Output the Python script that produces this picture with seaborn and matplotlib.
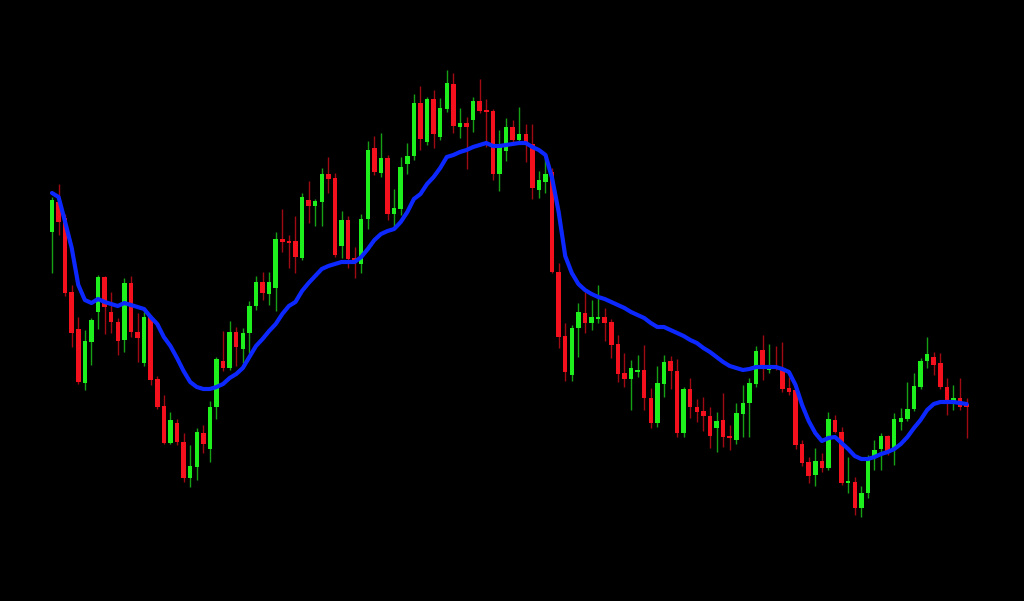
import numpy as np
import pandas as pd
import seaborn as sns
import matplotlib
matplotlib.use("Agg")
import matplotlib.pyplot as plt

# OHLC values (price points)
opens = [368, 398, 382, 308, 271, 217, 258, 288, 323, 288, 278, 260, 317, 268, 237, 283, 221, 194, 157, 177,
         158, 122, 133, 167, 151, 193, 239, 232, 268, 251, 267, 294, 318, 306, 312, 361, 359, 359, 342, 400,
         394, 398, 426, 422, 354, 380, 342, 336, 381, 452, 427, 442, 386, 391, 436, 444, 497, 458, 501, 463,
         491, 516, 473, 477, 480, 499, 489, 489, 426, 449, 473, 460, 466, 456, 410, 418, 428, 328, 264, 225,
         272, 287, 277, 281, 283, 278, 256, 227, 221, 228, 230, 202, 177, 216, 239, 229, 167, 211, 193, 189,
         184, 172, 180, 164, 160, 186, 197, 216, 250, 230, 234, 231, 212, 210, 156, 138, 125, 139, 132, 180,
         168, 117, 118, 92, 107, 142, 151, 164, 151, 178, 181, 191, 213, 239, 243, 237, 213, 199, 202, 196]
highs = [403, 416, 386, 315, 283, 270, 282, 325, 324, 308, 282, 322, 324, 287, 288, 285, 224, 205, 188, 181,
         167, 155, 172, 175, 199, 243, 269, 279, 273, 272, 299, 324, 328, 328, 368, 391, 365, 384, 407, 419,
         401, 432, 443, 427, 389, 384, 353, 386, 459, 464, 467, 445, 411, 443, 457, 506, 514, 503, 510, 502,
         530, 527, 492, 483, 503, 521, 501, 491, 470, 482, 480, 493, 476, 476, 429, 442, 432, 337, 277, 275,
         297, 308, 300, 315, 292, 281, 265, 247, 240, 245, 255, 212, 234, 245, 244, 241, 213, 222, 201, 203,
         193, 188, 207, 175, 197, 215, 222, 254, 265, 256, 254, 258, 223, 212, 160, 143, 152, 147, 188, 185,
         173, 143, 123, 114, 145, 160, 167, 165, 187, 192, 218, 227, 242, 263, 248, 247, 222, 215, 222, 202]
lows = [327, 365, 304, 253, 216, 210, 235, 271, 266, 267, 245, 248, 263, 238, 234, 215, 191, 156, 156, 155,
        118, 113, 120, 147, 138, 181, 229, 230, 234, 237, 247, 290, 300, 295, 289, 348, 332, 327, 340, 377,
        374, 374, 407, 343, 342, 332, 322, 327, 371, 425, 423, 380, 372, 385, 426, 440, 450, 455, 452, 460,
        488, 467, 462, 431, 468, 487, 453, 420, 409, 439, 458, 457, 438, 401, 402, 407, 327, 252, 219, 219,
        243, 267, 270, 277, 259, 242, 218, 213, 190, 223, 190, 172, 173, 203, 211, 163, 163, 182, 178, 169,
        152, 148, 153, 150, 156, 163, 163, 213, 220, 227, 230, 208, 205, 151, 134, 117, 114, 128, 130, 167,
        115, 107, 85, 83, 102, 130, 130, 145, 135, 170, 179, 189, 211, 232, 225, 211, 185, 190, 190, 162]
closes = [400, 378, 307, 267, 218, 259, 280, 323, 293, 278, 259, 317, 268, 262, 283, 220, 193, 157, 180, 158,
          122, 134, 168, 156, 193, 241, 232, 268, 253, 267, 294, 318, 307, 318, 361, 358, 357, 343, 403, 394,
          399, 426, 421, 345, 380, 341, 337, 381, 450, 428, 442, 386, 392, 433, 444, 497, 461, 501, 466, 492,
          517, 474, 477, 473, 499, 489, 488, 426, 453, 473, 460, 466, 458, 412, 420, 426, 328, 263, 228, 272,
          288, 277, 283, 283, 277, 255, 226, 221, 232, 230, 202, 177, 217, 238, 229, 167, 211, 193, 188, 184,
          164, 179, 163, 162, 187, 197, 217, 249, 232, 232, 232, 211, 208, 155, 137, 124, 139, 132, 181, 168,
          117, 118, 92, 107, 143, 150, 164, 148, 181, 182, 191, 214, 239, 246, 235, 213, 199, 202, 193, 193]
# moving average line
ma = [407, 403, 378, 352, 315, 300, 297, 301, 298, 296, 294, 297, 295, 293, 291, 283, 276, 263, 254, 242,
      229, 218, 213, 211, 211, 213, 216, 222, 226, 232, 243, 254, 261, 269, 276, 286, 294, 298, 309, 317,
      324, 331, 334, 336, 338, 338, 338, 343, 351, 360, 366, 369, 371, 378, 388, 401, 406, 416, 423, 432,
      443, 445, 448, 450, 453, 455, 457, 454, 454, 455, 456, 457, 457, 453, 450, 445, 422, 388, 344, 327,
      316, 310, 306, 303, 301, 298, 295, 292, 288, 285, 282, 277, 273, 273, 270, 267, 264, 260, 257, 252,
      248, 243, 238, 234, 232, 230, 231, 233, 233, 233, 233, 231, 228, 215, 195, 179, 167, 159, 162, 163,
      157, 151, 144, 141, 141, 143, 146, 148, 151, 156, 163, 172, 180, 190, 196, 198, 198, 198, 197, 196]

df = pd.DataFrame({"open": opens, "high": highs, "low": lows, "close": closes, "ma": ma})
df["bar"] = np.arange(len(df))
up = df["close"] >= df["open"]

sns.set_style("dark", {"axes.facecolor": "black", "figure.facecolor": "black"})

fig = plt.figure(figsize=(10.24, 6.01), dpi=100)
ax = fig.add_axes([0, 0, 1, 1])
ax.set_facecolor("black")

green = "#1ef01e"
red = "#f5101e"
colors = np.where(up, green, red)
wick_colors = np.where(up, "#16a016", "#a00a12")

# wicks
ax.vlines(df["bar"], df["low"], df["high"], colors=wick_colors, linewidth=1.0, zorder=1)
# bodies
body_bottom = np.minimum(df["open"], df["close"])
body_height = np.maximum((df["close"] - df["open"]).abs(), 1.6)
ax.bar(df["bar"], body_height, bottom=body_bottom, width=0.68, color=colors, linewidth=0, zorder=2)

# moving average
sns.lineplot(data=df, x="bar", y="ma", color="#0c28ff", linewidth=3.0, ax=ax, zorder=3)

ax.set_xlim(-7.9, 147.72)
ax.set_ylim(-1, 600)
ax.axis("off")

fig.savefig("out.png", dpi=100, facecolor="black")
